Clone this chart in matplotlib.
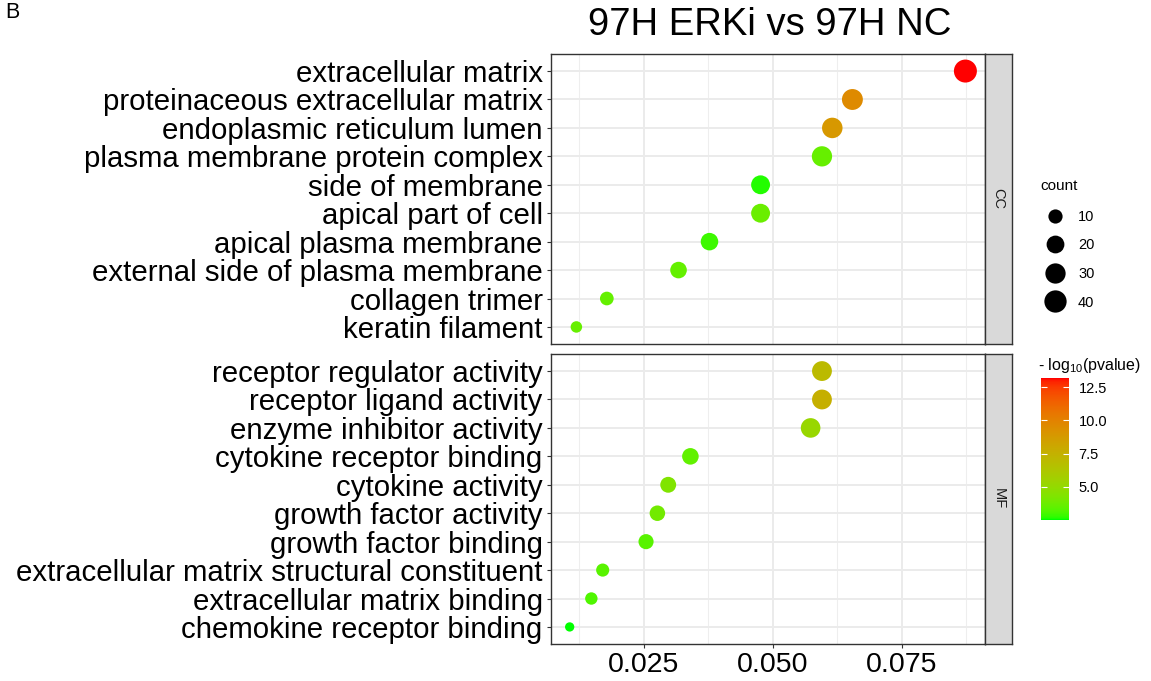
import numpy as np
import matplotlib
matplotlib.use('Agg')
import matplotlib.pyplot as plt
from matplotlib.colors import ListedColormap, Normalize
from matplotlib.cm import ScalarMappable
from matplotlib.lines import Line2D

plt.rcParams['font.family'] = ['Liberation Sans', 'DejaVu Sans']
plt.rcParams['mathtext.default'] = 'regular'

# données (de haut en bas)
cc_terms = ['extracellular matrix', 'proteinaceous extracellular matrix', 'endoplasmic reticulum lumen',
            'plasma membrane protein complex', 'side of membrane', 'apical part of cell',
            'apical plasma membrane', 'external side of plasma membrane', 'collagen trimer',
            'keratin filament']
cc_ratio = [0.0873, 0.0654, 0.0615, 0.0595, 0.0476, 0.0476, 0.0377, 0.0317, 0.0178, 0.0119]
cc_count = [44, 33, 31, 30, 24, 24, 19, 16, 9, 6]
cc_logp = [13.2, 9.6, 8.9, 3.6, 2.65, 3.7, 2.9, 3.55, 3.55, 3.6]

mf_terms = ['receptor regulator activity', 'receptor ligand activity', 'enzyme inhibitor activity',
            'cytokine receptor binding', 'cytokine activity', 'growth factor activity',
            'growth factor binding', 'extracellular matrix structural constituent',
            'extracellular matrix binding', 'chemokine receptor binding']
mf_ratio = [0.0595, 0.0595, 0.0573, 0.0340, 0.0297, 0.0276, 0.0254, 0.0170, 0.0148, 0.0106]
mf_count = [28, 28, 27, 16, 14, 13, 12, 8, 7, 5]
mf_logp = [7.0, 7.6, 5.2, 3.5, 4.3, 3.9, 3.3, 3.3, 3.15, 2.5]

x_ticks = [0.025, 0.050, 0.075]
size_breaks = [10, 20, 30, 40]
color_breaks = [5.0, 7.5, 10.0, 12.5]
color_lim = (2.5, 13.2)

W, H = 1151, 681


def box(l, t, r, b):
    return [l / W, 1 - b / H, (r - l) / W, (b - t) / H]


def srgb_to_lab(rgb):
    rgb = np.asarray(rgb, float)
    lin = np.where(rgb <= 0.04045, rgb / 12.92, ((rgb + 0.055) / 1.055) ** 2.4)
    m = np.array([[0.4124, 0.3576, 0.1805], [0.2126, 0.7152, 0.0722], [0.0193, 0.1192, 0.9505]])
    xyz = m @ lin / np.array([0.95047, 1.0, 1.08883])
    f = np.where(xyz > 0.008856, np.cbrt(xyz), 7.787 * xyz + 16 / 116)
    return np.array([116 * f[1] - 16, 500 * (f[0] - f[1]), 200 * (f[1] - f[2])])


def lab_to_srgb(lab):
    L, a, b = lab
    fy = (L + 16) / 116
    f = np.array([fy + a / 500, fy, fy - b / 200])
    xyz = np.where(f ** 3 > 0.008856, f ** 3, (f - 16 / 116) / 7.787) * np.array([0.95047, 1.0, 1.08883])
    m = np.array([[3.2406, -1.5372, -0.4986], [-0.9689, 1.8758, 0.0415], [0.0557, -0.2040, 1.0570]])
    lin = np.clip(m @ xyz, 0, 1)
    return np.clip(np.where(lin <= 0.0031308, 12.92 * lin, 1.055 * lin ** (1 / 2.4) - 0.055), 0, 1)


# dégradé vert -> rouge interpolé en Lab, comme ggplot
lo, hi = srgb_to_lab([0, 1, 0]), srgb_to_lab([1, 0, 0])
cmap = ListedColormap([lab_to_srgb(lo + t * (hi - lo)) for t in np.linspace(0, 1, 256)])
norm = Normalize(*color_lim)

cmin, cmax = min(cc_count + mf_count), max(cc_count + mf_count)


def diam_px(c):
    return 9.3 + 13.7 * np.sqrt((np.asarray(c, float) - cmin) / (cmax - cmin))


def area(c):
    return (diam_px(c) * 72 / 100) ** 2


fig = plt.figure(figsize=(W / 100, H / 100), dpi=100)

panels = [(cc_terms, cc_ratio, cc_count, cc_logp, 'CC', 54, 344),
          (mf_terms, mf_ratio, mf_count, mf_logp, 'MF', 354, 644)]
for terms, ratio, count, logp, lab, top, bot in panels:
    ax = fig.add_axes(box(551, top, 985, bot))
    y = np.arange(len(terms))
    ax.scatter(ratio, y, s=area(count), c=logp, cmap=cmap, norm=norm, linewidths=0, zorder=3)
    ax.set_xlim(0.00698, 0.0911)
    ax.set_ylim(len(terms) - 0.4, -0.6)
    ax.set_yticks(y)
    ax.set_yticklabels(terms, fontsize=21.2, color='black')
    ax.set_xticks(x_ticks)
    ax.set_xticks([0.0125, 0.0375, 0.0625, 0.0875], minor=True)
    ax.grid(True, which='major', color='#EBEBEB', lw=1.4, zorder=0)
    ax.grid(True, which='minor', axis='x', color='#EEEEEE', lw=0.8, zorder=0)
    ax.set_axisbelow(True)
    for s in ax.spines.values():
        s.set_color('#333333')
        s.set_linewidth(1.0)
    ax.tick_params(axis='y', length=3, width=0.8, color='#333333', pad=3)
    ax.tick_params(axis='x', which='minor', length=0)
    if lab == 'CC':
        ax.tick_params(axis='x', which='major', length=0, labelbottom=False)
    else:
        ax.tick_params(axis='x', which='major', length=3, width=0.8, color='#333333',
                       labelsize=20.5, labelcolor='black', pad=3)
        ax.set_xticklabels(['%.3f' % v for v in x_ticks])

    st = fig.add_axes(box(985, top, 1012, bot))
    st.set_facecolor('#D9D9D9')
    st.set_xticks([])
    st.set_yticks([])
    for s in st.spines.values():
        s.set_color('#333333')
        s.set_linewidth(1.0)
    st.text(0.5, 0.5, lab, rotation=-90, ha='center', va='center', fontsize=10.5,
            color='#1A1A1A', transform=st.transAxes)

fig.text(770 / W, 1 - 25 / H, '97H ERKi vs 97H NC', ha='center', va='center', fontsize=27.5)
fig.text(5 / W, 1 - 13 / H, 'B', ha='left', va='center', fontsize=15.5)

# légende des tailles
fig.text(1040 / W, 1 - 186 / H, 'count', ha='left', va='center', fontsize=11)
handles = [Line2D([], [], marker='o', ls='', color='black', markeredgewidth=0,
                  markersize=diam_px(v) * 0.72) for v in size_breaks]
leg = fig.legend(handles, [str(v) for v in size_breaks], loc='upper left',
                 bbox_to_anchor=(1035 / W, 1 - 204 / H), frameon=False, fontsize=10.5,
                 labelspacing=1.0, handletextpad=0.55, borderaxespad=0)

# barre de couleur
cax = fig.add_axes(box(1041, 378, 1069, 520))
cb = fig.colorbar(ScalarMappable(norm=norm, cmap=cmap), cax=cax)
cb.outline.set_visible(False)
cb.set_ticks(color_breaks)
cb.set_ticklabels(['%.1f' % v for v in color_breaks])
cax.tick_params(direction='in', color='white', length=4, width=0.8, left=True, right=True,
                labelsize=10.5, labelcolor='black', pad=7)
fig.text(1038 / W, 1 - 366 / H, '- log$_{10}$(pvalue)', ha='left', va='center', fontsize=11.5)

fig.savefig('out.png', dpi=100)
